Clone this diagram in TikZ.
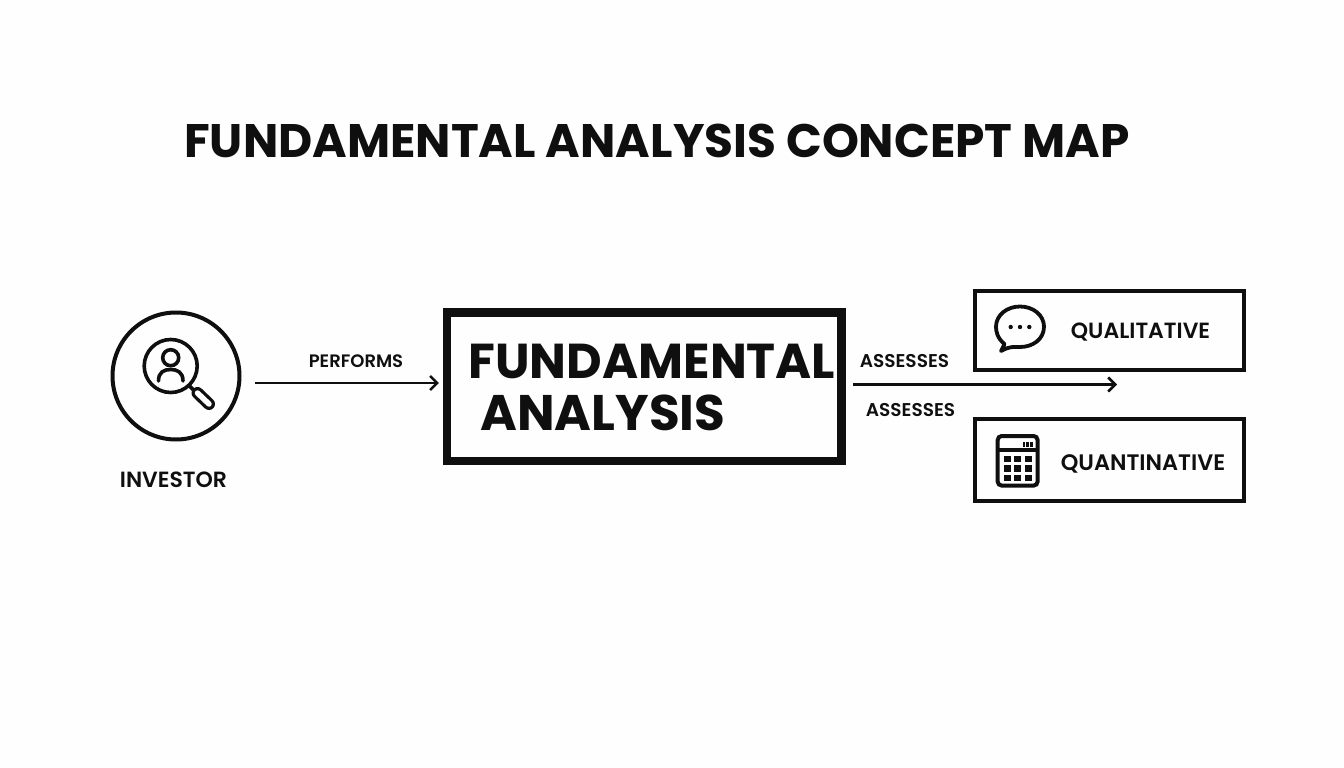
\documentclass[tikz,border=0pt]{standalone}
\usepackage{fontspec}
\setmainfont{Poppins}
\newfontfamily\semifam{Poppins SemiBold}
\usetikzlibrary{arrows.meta}
\definecolor{ink}{HTML}{0F0F0F}
\definecolor{paper}{HTML}{FEFEFE}
\tikzset{
  x=1pt,y=-1pt,
  lbl/.style={inner sep=0pt,outer sep=0pt,text=ink,font=\bfseries\fontsize{#1}{#1}\selectfont,anchor=center},
  smalllbl/.style={inner sep=0pt,outer sep=0pt,text=ink,font=\semifam\fontsize{#1}{#1}\selectfont,anchor=center},
  framebox/.style={draw=ink,line width=#1,inner sep=0pt,outer sep=0pt,rectangle},
  link/.style={draw=ink,line width=2.6pt,-{Straight Barb[length=7pt,width=14pt,line width=2.6pt]}},
  icon/.style={draw=ink,line width=3.6pt},
  key/.style={fill=ink,draw=none},
}
\begin{document}
\begin{tikzpicture}
\useasboundingbox[fill=paper] (0,0) rectangle (1344,768);
\node[lbl=47] (title) at (657,141) {FUNDAMENTAL ANALYSIS CONCEPT MAP};

% investor
\node[circle,draw=ink,line width=4pt,minimum size=127pt,inner sep=0pt,outer sep=0pt] (inv) at (176,376) {};
\node[circle,icon,minimum size=53pt,inner sep=0pt,outer sep=0pt] (lens) at (170.7,366) {};
\node[circle,icon,minimum size=16pt,inner sep=0pt,outer sep=0pt] (head) at (170.7,357.7) {};
\draw[icon,line cap=round] (158.5,381) .. controls (158.5,372) and (164,369.5) .. (170.7,369.5) .. controls (177,369.5) and (183,372) .. (183,381);
\draw[icon,line cap=round,line width=12pt] (197.5,393) -- (209,404);
\draw[line cap=round,line width=5.5pt,paper] (197.5,393) -- (209,404);
\draw[icon] (189.5,386) -- (193,389.5);
\node[smalllbl=22] (invt) at (173.5,479.5) {INVESTOR};

% main
\node[framebox=8.5pt,minimum width=394.5pt,minimum height=148.5pt] (main) at (644.2,386.7) {};
\node[lbl=49] (m1) at (652,361) {FUNDAMENTAL};
\node[lbl=50] (m2) at (603,412.5) {ANALYSIS};

% right boxes
\node[framebox=3.6pt,minimum width=269.5pt,minimum height=79.5pt] (qual) at (1109.5,330.5) {};
\node[framebox=3.6pt,minimum width=269.5pt,minimum height=82.5pt] (quant) at (1109.5,460) {};
\node[smalllbl=22] (qualt) at (1140.5,332) {QUALITATIVE};
\node[smalllbl=22.4] (quantt) at (1143,464) {QUANTINATIVE};

% connectors
\coordinate (pstart) at (255,383);
\coordinate (aend) at (1117,384.5);
\draw[link,shorten >=8pt] (pstart) -- (pstart -| main.west);
\draw[link,shorten <=11.5pt] (main.east |- aend) -- (aend);
\node[smalllbl=18] (perf) at (356,361.5) {PERFORMS};
\node[smalllbl=18.5] (as1) at (904.5,361.5) {ASSESSES};
\node[smalllbl=18.5] (as2) at (910.5,410.5) {ASSESSES};

% bubble
\draw[icon,line width=3.8pt,line join=round] (1004.5,344) .. controls (997,338) and (996,331) .. (996,326.7)
  .. controls (996,315) and (1007,306.5) .. (1020,306.5)
  .. controls (1033,306.5) and (1044,315) .. (1044,326.7)
  .. controls (1044,339) and (1033,347) .. (1020,347)
  .. controls (1015,347) and (1010,346) .. (1001,351) -- cycle;
\foreach \dx in {1010.7,1020,1029.3} \fill[ink] (\dx,327) circle (2.2pt);

% calculator
\draw[icon,line width=4pt,rounded corners=4pt] (997.7,436) rectangle (1037.6,485.6);
\draw[icon] (997.7,450) -- (1037.6,450);
\foreach \bx in {1022.5,1026,1030} \fill[ink] (\bx,441.5) rectangle +(2.6,5);
\foreach \ky in {459,468.5,477.7}
  \foreach \kx in {1007.3,1017.5,1028.3}
    \fill[key] (\kx-3.7,\ky-3.1) rectangle (\kx+3.7,\ky+3.1);
\end{tikzpicture}
\end{document}
